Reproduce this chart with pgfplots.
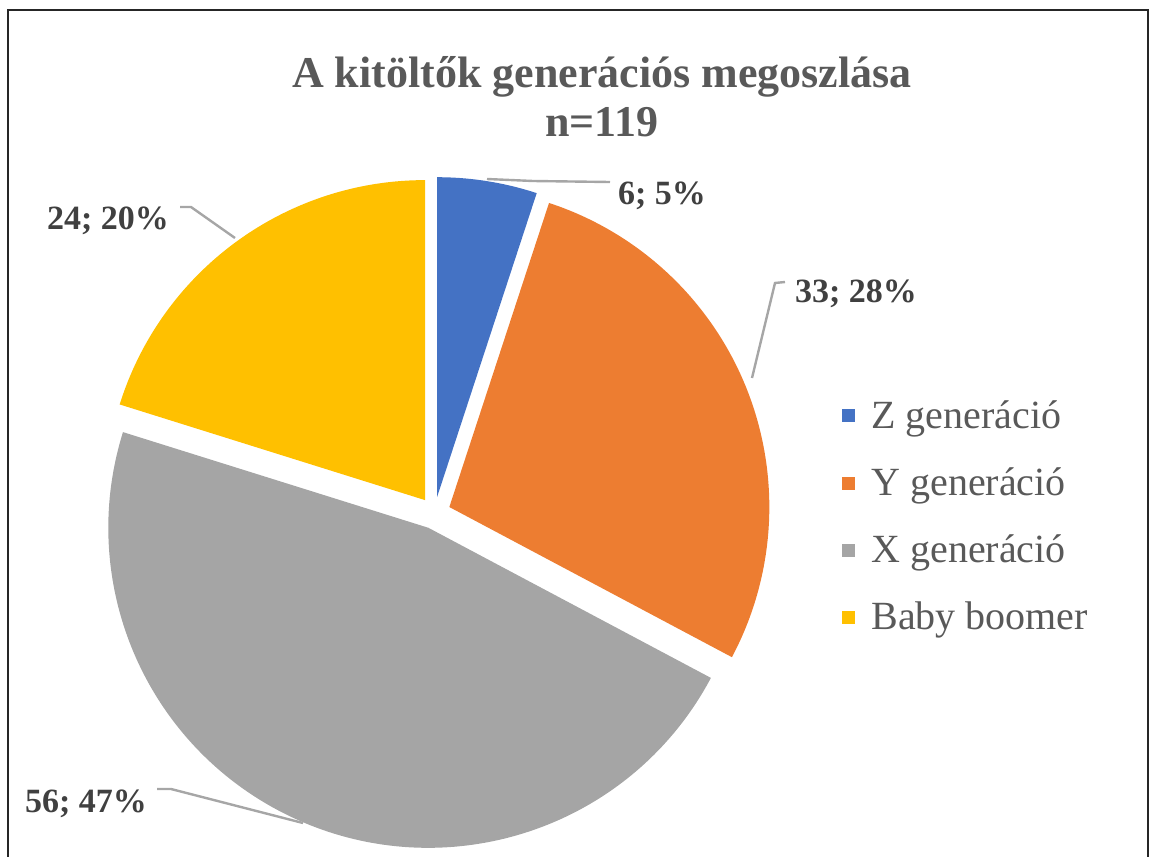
\documentclass[border=0pt]{standalone}
\usepackage{pgfplots}
\pgfplotsset{compat=1.18}
\usepackage{pgfplotstable}
\usepackage{fontspec}
\setmainfont{Liberation Serif}

\definecolor{zblue}{HTML}{4472C4}
\definecolor{yorange}{HTML}{ED7D31}
\definecolor{xgray}{HTML}{A5A5A5}
\definecolor{byellow}{HTML}{FFC000}
\definecolor{titlegray}{HTML}{595959}
\definecolor{labelgray}{HTML}{404040}
\definecolor{leadergray}{HTML}{A6A6A6}

% generacio, darab
\pgfplotstableread{
gen value
Z 6
Y 33
X 56
B 24
}\gentable

\begin{document}
\begin{tikzpicture}
% slice angles from the counts (clockwise from 12 o'clock)
\pgfplotstablegetelem{0}{value}\of\gentable \let\vZ\pgfplotsretval
\pgfplotstablegetelem{1}{value}\of\gentable \let\vY\pgfplotsretval
\pgfplotstablegetelem{2}{value}\of\gentable \let\vX\pgfplotsretval
\pgfplotstablegetelem{3}{value}\of\gentable \let\vB\pgfplotsretval
\pgfmathsetmacro\tot{\vZ+\vY+\vX+\vB}
\pgfmathsetmacro\k{360/\tot}
\pgfmathsetmacro\aA{90}
\pgfmathsetmacro\aB{\aA-\k*\vZ}
\pgfmathsetmacro\aC{\aB-\k*\vY}
\pgfmathsetmacro\aD{\aC-\k*\vX}
\pgfmathsetmacro\aE{\aD-\k*\vB}
\def\R{160pt}
\def\ex{8pt}
% overlay: bezier control points of the arcs must not grow the bounding box
\newcommand\slice[3]{%
  \fill[#1, overlay] (axis cs:434.5,513) ++({(#2+#3)/2}:\ex) -- ++(#2:\R)
    arc[start angle=#2, end angle=#3, radius=\R] -- cycle;}

\begin{axis}[
    scale only axis,
    width=576.5pt, height=428.5pt,
    xmin=0, xmax=1153, ymin=0, ymax=857,
    y dir=reverse,
    hide axis, clip=false,
    legend style={at={(axis cs:842,396)}, anchor=north west,
        draw=none, fill=none, inner sep=0pt,
        font=\fontsize{20}{23}\selectfont\color{titlegray},
        row sep=14.2pt, cells={anchor=west},
        /tikz/every odd column/.append style={column sep=6pt}},
    legend image code/.code={\fill[#1, draw=none] (0pt,-3.25pt) rectangle (6.5pt,3.25pt);},
]
% page area
\path (axis cs:0,0) rectangle (axis cs:1153,857);

\slice{zblue}{\aA}{\aB}
\slice{yorange}{\aB}{\aC}
\slice{xgray}{\aC}{\aD}
\slice{byellow}{\aD}{\aE}

\addlegendimage{fill=zblue}
\addlegendentry{Z generáció}
\addlegendimage{fill=yorange}
\addlegendentry{Y generáció}
\addlegendimage{fill=xgray}
\addlegendentry{X generáció}
\addlegendimage{fill=byellow}
\addlegendentry{Baby boomer}

% leader lines
\draw[leadergray, line width=1.2pt] (axis cs:487,179) -- (axis cs:533,181) -- (axis cs:610,182);
\draw[leadergray, line width=1.2pt] (axis cs:785,282) -- (axis cs:775,283) -- (axis cs:752,378);
\draw[leadergray, line width=1.2pt] (axis cs:180,207) -- (axis cs:191,207) -- (axis cs:235,238);
\draw[leadergray, line width=1.2pt] (axis cs:157,789) -- (axis cs:171,789) -- (axis cs:303,823);

% data labels
\begin{scope}[font=\bfseries\fontsize{17}{20}\selectfont, text=labelgray]
\node at (axis cs:662,196) {6; 5\%};
\node at (axis cs:856,294) {33; 28\%};
\node at (axis cs:108,221) {24; 20\%};
\node at (axis cs:86,804) {56; 47\%};
\end{scope}

\node[align=center, text=titlegray, font=\bfseries\fontsize{22}{24.5}\selectfont]
  at (axis cs:602,97) {A kitöltők generációs megoszlása\\n=119};

% chart frame
\draw[line width=1pt, black!85, overlay] (axis cs:8,857) -- (axis cs:8,10) -- (axis cs:1148,10) -- (axis cs:1148,857);
\end{axis}
\end{tikzpicture}
\end{document}
